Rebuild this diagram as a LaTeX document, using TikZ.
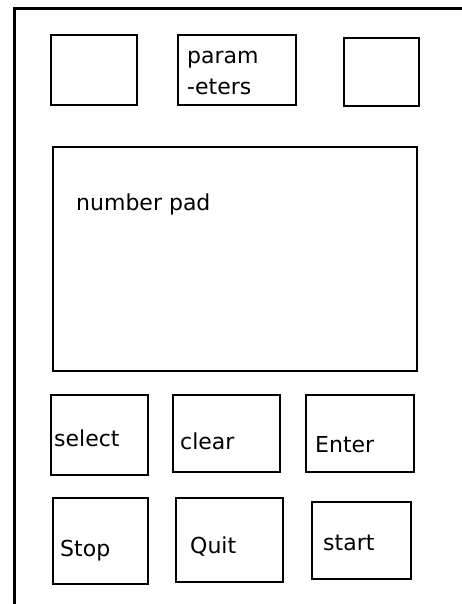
\documentclass[tikz,border=0pt]{standalone}
\usepackage{fontspec}
\setsansfont{DejaVu Sans}
\usetikzlibrary{calc}

\tikzset{
  panel/.style={line width=3pt},
  keybox/.style={line width=2.8pt},
  keytext/.style={font=\sffamily\fontsize{22}{32}\selectfont, anchor=base west, inner sep=0pt}
}

\begin{document}
\begin{tikzpicture}[x=1pt,y=-1pt]

\useasboundingbox (0,0) rectangle (462,604);

\coordinate (PanelBottom) at (14,604);
\coordinate (PanelCorner) at (14,9);
\coordinate (PanelRight)  at (462,9);

\draw [panel] (PanelBottom) -- (PanelCorner) -- (PanelRight);% Panel edge

% top row
\draw [keybox] (51,35) rectangle (137,105);
\draw [keybox] (178,35) rectangle (296,105);
\draw [keybox] (344,38) rectangle (419,106);
\node [keytext] (ParamTop) at (187,64) {param};
\node [keytext] (ParamBottom) at (187,95) {-eters};

% number pad
\draw [keybox] (53,147) rectangle (417,371);
\node [keytext] (NumberPad) at (76,210) {number pad};

% keys
\draw [keybox] (51,395) rectangle (148,475);
\draw [keybox] (173,395) rectangle (280,472);
\draw [keybox] (306,395) rectangle (414,472);
\node [keytext] (Select) at (54,446) {select};
\node [keytext] (Clear)  at (180,449) {clear};
\node [keytext] (Enter)  at (315,452) {Enter};

\draw [keybox] (53,498) rectangle (148,584);
\draw [keybox] (176,498) rectangle (283,582);
\draw [keybox] (312,502) rectangle (411,579);
\node [keytext] (Stop)  at (60,556) {Stop};
\node [keytext] (Quit)  at (190,553) {Quit};
\node [keytext] (Start) at (323,550) {start};

\end{tikzpicture}
\end{document}
